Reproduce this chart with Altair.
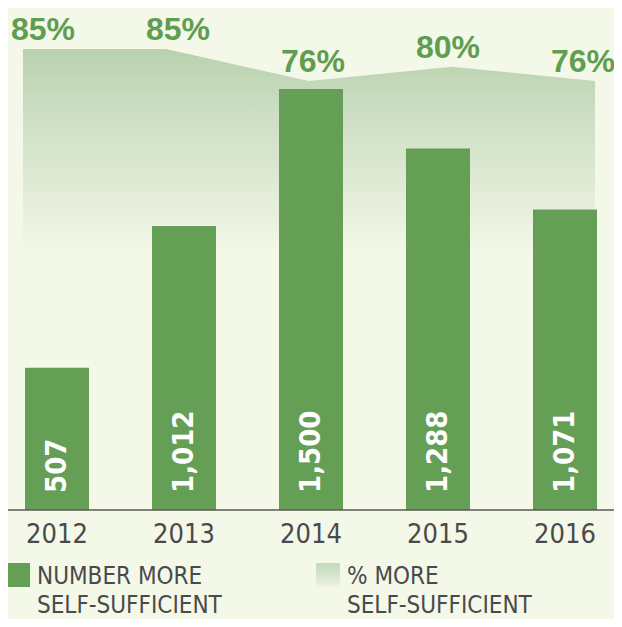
import altair as alt
import pandas as pd

# ---- data ----
years = ["2012", "2013", "2014", "2015", "2016"]
counts = [507, 1012, 1500, 1288, 1071]
count_labels = ["507", "1,012", "1,500", "1,288", "1,071"]
pcts = [85, 85, 76, 80, 76]
pct_labels = ["85%", "85%", "76%", "80%", "76%"]
legend_number = ["NUMBER MORE", "SELF-SUFFICIENT"]
legend_pct = ["% MORE", "SELF-SUFFICIENT"]

# ---- style ----
BG = "#f4f8e8"
GREEN = "#659f55"
TEXT_GREEN = "#5f9e50"
GRAY = "#4a4a4a"
NARROW = "DejaVu Sans Condensed, DejaVu Sans, sans-serif"
BOLD = "Liberation Sans, Arial, sans-serif"
W, H = 606, 502

df = pd.DataFrame({
    "year": years,
    "count": counts,
    "count_label": count_labels,
    "idx": list(range(len(years))),
    "pct": pcts,
    "pct_label": pct_labels,
})
one = pd.DataFrame({"k": [0]})

# ---- bars group ----
xb = alt.X("year:N",
           scale=alt.Scale(range=[17, 589], paddingInner=0.496, paddingOuter=0),
           axis=alt.Axis(title=None, labelAngle=0, domain=False, ticks=False,
                         labelFont=NARROW, labelFontSize=27, labelColor=GRAY,
                         labelPadding=11, labelBaseline="top", grid=False))
yb_scale = alt.Scale(domain=[0, 1789], nice=False, zero=True)

bars = alt.Chart(df).mark_bar(color=GREEN).encode(
    x=xb, y=alt.Y("count:Q", scale=yb_scale, axis=None))

bartext = alt.Chart(df).mark_text(
    angle=270, align="left", baseline="middle", dx=17,
    font=NARROW, fontSize=29, fontWeight="bold", color="white"
).encode(x=alt.X("year:N"), y=alt.datum(0), text="count_label:N")

rule = alt.Chart(one).mark_rule(color="#5a5a5a", strokeWidth=1.3).encode(
    x=alt.value(0), x2=alt.value(W), y=alt.datum(0))

bars_group = alt.layer(bars, bartext, rule)

# ---- area (% more self-sufficient) ----
grad = alt.Gradient(
    gradient="linear",
    stops=[alt.GradientStop(color="#b8d2ad", offset=0),
           alt.GradientStop(color="#cbddc2", offset=0.2),
           alt.GradientStop(color=BG, offset=0.68),
           alt.GradientStop(color=BG, offset=1)],
    x1=0, x2=0, y1=0, y2=1)

pct_scale = alt.Scale(domain=[-44.65, 96.53], nice=False, zero=False)

area = alt.Chart(df).mark_area(color=grad, interpolate="linear").encode(
    x=alt.X("idx:Q", scale=alt.Scale(domain=[0, 4], range=[15, 587], nice=False, zero=False), axis=None),
    y=alt.Y("pct:Q", scale=pct_scale, axis=None),
    y2=alt.value("height"))

pct_text = alt.Chart(df).mark_text(
    font=BOLD, fontSize=32, fontWeight="bold", color=TEXT_GREEN,
    baseline="alphabetic", dy=-9
).encode(
    x=alt.X("idx:Q", scale=alt.Scale(domain=[0, 4], range=[35, 575], nice=False, zero=False), axis=None),
    y=alt.Y("pct:Q", scale=pct_scale, axis=None),
    text="pct_label:N")

# ---- legend ----
leg_df1 = pd.DataFrame({"label": [legend_number]})
leg_df2 = pd.DataFrame({"label": [legend_pct]})

sw1 = alt.Chart(one).mark_rect(color=GREEN).encode(
    x=alt.value(0), x2=alt.value(22), y=alt.value(555), y2=alt.value(579))
grad2 = alt.Gradient(
    gradient="linear",
    stops=[alt.GradientStop(color="#c2d9b9", offset=0),
           alt.GradientStop(color="#eef3e2", offset=1)],
    x1=0, x2=0, y1=0, y2=1)
sw2 = alt.Chart(one).mark_rect(color=grad2).encode(
    x=alt.value(308), x2=alt.value(332), y=alt.value(555), y2=alt.value(579))

lt1 = alt.Chart(leg_df1).mark_text(
    align="left", baseline="alphabetic", font=NARROW, fontSize=24,
    color=GRAY, lineHeight=29
).encode(x=alt.value(29), y=alt.value(576), text="label")
lt2 = alt.Chart(leg_df2).mark_text(
    align="left", baseline="alphabetic", font=NARROW, fontSize=24,
    color=GRAY, lineHeight=29
).encode(x=alt.value(339), y=alt.value(576), text="label")

chart = alt.layer(area, pct_text, bars_group, sw1, sw2, lt1, lt2).resolve_scale(
    x="independent", y="independent"
).properties(
    width=W, height=H, background=BG,
    padding={"left": 0, "top": 0, "right": 0, "bottom": 109},
    autosize=alt.AutoSizeParams(type="none"),
).configure_view(stroke=None)

chart.save("out.html", embed_options={"renderer": "svg", "actions": False})
